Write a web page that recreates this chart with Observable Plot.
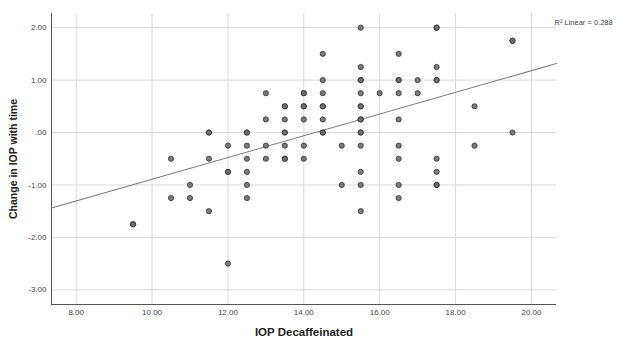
<!DOCTYPE html>
<html>
<head>
<meta charset="utf-8">
<script src="https://cdn.jsdelivr.net/npm/d3@7"></script>
<script src="https://cdn.jsdelivr.net/npm/@observablehq/plot@0.6"></script>
<style>
  html, body { margin: 0; padding: 0; background: #fff; }
  #chart svg { display: block; }
</style>
</head>
<body>
<div id="chart"></div>
<script>
// IOP Decaffeinated (x) and Change in IOP with time (y); repeated entries = overlapping cases
const iopDecaf = [
  9.5, 9.5,
  10.5, 10.5,
  11, 11,
  11.5, 11.5, 11.5, 11.5,
  12, 12, 12, 12,
  12.5, 12.5, 12.5, 12.5, 12.5, 12.5, 12.5,
  13, 13, 13, 13,
  13.5, 13.5, 13.5, 13.5, 13.5, 13.5, 13.5, 13.5,
  14, 14, 14, 14, 14, 14, 14,
  14.5, 14.5, 14.5, 14.5, 14.5, 14.5, 14.5, 14.5,
  15, 15,
  15.5, 15.5, 15.5, 15.5, 15.5, 15.5, 15.5, 15.5, 15.5, 15.5, 15.5, 15.5, 15.5, 15.5, 15.5,
  16,
  16.5, 16.5, 16.5, 16.5, 16.5, 16.5, 16.5, 16.5, 16.5,
  17, 17,
  17.5, 17.5, 17.5, 17.5, 17.5, 17.5, 17.5, 17.5, 17.5,
  18.5, 18.5,
  19.5, 19.5, 19.5
];
const iopChange = [
  -1.75, -1.75,
  -0.5, -1.25,
  -1, -1.25,
  0, 0, -0.5, -1.5,
  -0.25, -0.75, -0.75, -2.5,
  0, 0, -0.25, -0.5, -0.75, -1, -1.25,
  0.75, 0.25, -0.25, -0.5,
  0.5, 0.5, 0.25, 0, 0, -0.25, -0.5, -0.5,
  0.75, 0.75, 0.5, 0.5, 0.25, -0.25, -0.5,
  1.5, 1, 0.75, 0.5, 0.5, 0.25, 0, 0,
  -0.25, -1,
  2, 1.25, 1, 1, 0.75, 0.5, 0.5, 0.25, 0.25, 0, -0.25, -0.75, -1, -1.5, 0,
  0.75,
  1.5, 1, 1, 0.75, 0.25, -0.25, -0.5, -1, -1.25,
  1, 0.75,
  2, 2, 1.25, 1, 1, -0.5, -0.75, -1, -1,
  0.5, -0.25,
  1.75, 1.75, 0
];
const xTicks = [8, 10, 12, 14, 16, 18, 20];
const yTicks = [2, 1, 0, -1, -2, -3];
const xDomain = [7.35, 20.66];
const yDomain = [-3.28, 2.27];
// fitted linear regression
const fitSlope = 0.207;
const fitIntercept = -2.96;
const r2Label = "R\u00B2 Linear = 0.288";
const xTitle = "IOP Decaffeinated";
const yTitle = "Change in IOP with time";

const points = iopDecaf.map((x, i) => ({x, y: iopChange[i]}));
const fitLine = xDomain.map(x => ({x, y: fitIntercept + fitSlope * x}));
const fmt = d => d === 0 ? ".00" : d.toFixed(2);

const chart = Plot.plot({
  width: 619,
  height: 337,
  marginLeft: 51,
  marginRight: 63,
  marginTop: 13,
  marginBottom: 33,
  style: {fontFamily: "'Liberation Sans', Arial, sans-serif", background: "#fff"},
  x: {domain: xDomain},
  y: {domain: yDomain},
  marks: [
    Plot.gridX(xTicks, {stroke: "#d9d9d9", strokeOpacity: 1, strokeWidth: 1}),
    Plot.gridY(yTicks, {stroke: "#d9d9d9", strokeOpacity: 1, strokeWidth: 1}),
    Plot.axisX(xTicks, {tickSize: 0, tickPadding: 5, tickFormat: fmt, fontSize: 8, fill: "#444", label: null}),
    Plot.axisY(yTicks, {tickSize: 0, tickPadding: 5, tickFormat: fmt, fontSize: 8, fill: "#444", label: null}),
    Plot.ruleX([xDomain[0]], {stroke: "#555", strokeWidth: 1}),
    Plot.ruleY([yDomain[0]], {stroke: "#555", strokeWidth: 1}),
    Plot.line(fitLine, {x: "x", y: "y", stroke: "#7a7a7a", strokeWidth: 1.1}),
    Plot.dot(points, {x: "x", y: "y", r: 2.6, fill: "#6e6e6e", fillOpacity: 0.9, stroke: "#2b2b2b", strokeOpacity: 0.75, strokeWidth: 1}),
    Plot.text([r2Label], {frameAnchor: "top-right", textAnchor: "start", dx: -2, dy: 6, fontSize: 7.5, fill: "#444"}),
    Plot.text([xTitle], {frameAnchor: "bottom", textAnchor: "middle", lineAnchor: "middle", dy: 28, fontSize: 11.5, fontWeight: "bold", fill: "#222"}),
    Plot.text([yTitle], {frameAnchor: "left", textAnchor: "middle", lineAnchor: "middle", rotate: -90, dx: -38, fontSize: 10.5, fontWeight: "bold", fill: "#222"})
  ]
});
document.getElementById("chart").appendChild(chart);
</script>
</body>
</html>
